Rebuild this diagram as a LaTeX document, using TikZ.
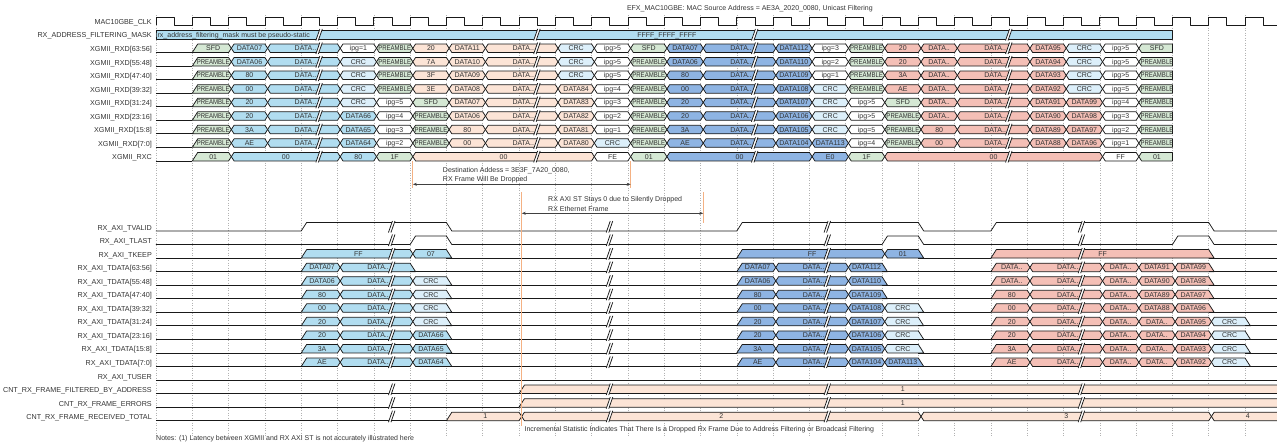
\documentclass[tikz,border=0pt]{standalone}
\usepackage{fontspec}
\setmainfont{Liberation Sans}
\usepackage{graphicx}
\usetikzlibrary{arrows.meta}
\definecolor{WaveGreen}{HTML}{D5E8D4}
\definecolor{FrameBlue}{HTML}{B1DDF0}
\definecolor{CrcBlue}{HTML}{DCEFFA}
\definecolor{FrameNavy}{HTML}{8EB4E3}
\definecolor{FramePeach}{HTML}{FCE4D6}
\definecolor{FrameSalmon}{HTML}{F4BFB6}
\definecolor{MarkOrange}{HTML}{F4B183}

\newcommand\pre{\scalebox{0.86}[1]{PREAMBLE}}
\newcommand\wslope{0.15}
\newcommand\wvh{8.5}
\def\wsx{x}\def\wsr{r}\def\wsv{v}\def\wsf{f}\def\wsl{l}\def\wsb{b}
\def\wparse#1#2#3#4\wend{\def\cellL{#1}\def\cellR{#2}\def\cellT{#3}}

% one bus value: ks/ke in clock periods, shape = left+right edge (+b: text before the break)
\newcommand\wcell[1]{%
  \expandafter\wparse\wsh\relax\relax\relax\wend
  \ifx\cellL\wsl
    \draw[wave] (\ks,\yb) -- (\ke,\yb);
  \else
    \ifx\cellL\wsx \def\xbl{\ks+\wslope}\def\xlm{\ks+\wslope/2}\def\xtl{\ks+\wslope}\fi
    \ifx\cellL\wsr \def\xbl{\ks}\def\xlm{\ks+\wslope/2}\def\xtl{\ks+\wslope}\fi
    \ifx\cellL\wsv \def\xbl{\ks}\def\xlm{\ks}\def\xtl{\ks}\fi
    \ifx\cellR\wsx \def\xtr{\ke}\def\xrm{\ke+\wslope/2}\def\xbr{\ke}\fi
    \ifx\cellR\wsf \def\xtr{\ke}\def\xrm{\ke+\wslope/2}\def\xbr{\ke+\wslope}\fi
    \ifx\cellR\wsv \def\xtr{\ke}\def\xrm{\ke}\def\xbr{\ke}\fi
    \filldraw[wave,fill=\col] ({\xbl},\yb) -- ({\xlm},\ym) -- ({\xtl},\yt)
      -- ({\xtr},\yt) -- ({\xrm},\ym) -- ({\xbr},\yb) -- cycle;
    \ifx\cellT\wsb
      \node[celltxt,anchor=base east] (c#1-\ks) at ({\ke-0.58},{\ym+2.5}) {\txt};
    \else
      \node[celltxt,anchor=base] (c#1-\ks) at ({(\ks+\ke+\wslope)/2},{\ym+2.5}) {\txt};
    \fi
  \fi}
\newcommand\wrow[3]{%
  \pgfmathsetmacro\yb{#2}%
  \pgfmathsetmacro\yt{#2-\wvh}%
  \pgfmathsetmacro\ym{#2-\wvh/2}%
  \foreach \ks/\ke/\wsh/\col/\txt in {#3}{\wcell{#1}}}
\newcommand\wbreak[2]{%
  \begin{scope}[shift={(#1,#2)},x=1pt,y=-1pt]
    \fill[white] (-3.5,1.5) -- (0.5,-\wvh-1.5) -- (3,-\wvh-1.5) -- (-1,1.5) -- cycle;
    \draw[wave] (-3.5,1.5) -- (0.5,-\wvh-1.5) (-1,1.5) -- (3,-\wvh-1.5);
  \end{scope}}

\begin{document}
\begin{tikzpicture}[x=36.3pt,y=-1pt]
  \tikzset{
    wave/.style={draw=black!90,line width=0.75pt,line join=round},
    celltxt/.style={font=\fontsize{7}{8}\selectfont,text=black!80,inner sep=0pt},
    signame/.style={font=\fontsize{7.2}{8}\selectfont,text=black!80,anchor=base east,inner sep=0pt},
    gridline/.style={draw=black!30,dotted,line width=0.5pt},
    marker/.style={draw=MarkOrange,line width=1.2pt},
    span/.style={draw=black!75,line width=0.6pt,{Stealth[length=4pt,width=3pt]}-{Stealth[length=4pt,width=3pt]}},
    note/.style={font=\fontsize{7}{8}\selectfont,text=black!80,inner sep=0pt}}
  \useasboundingbox (-4.2975,0) rectangle (30.8815,442);

  % clock grid
  \foreach \k in {0,...,30} \draw[gridline] (\k,15) -- (\k,437);

  % signal names
  \foreach \nm [count=\i from 0] in {{MAC10GBE\_CLK},{RX\_ADDRESS\_FILTERING\_MASK},
      {XGMII\_RXD[63:56]},{XGMII\_RXD[55:48]},{XGMII\_RXD[47:40]},{XGMII\_RXD[39:32]},
      {XGMII\_RXD[31:24]},{XGMII\_RXD[23:16]},{XGMII\_RXD[15:8]},{XGMII\_RXD[7:0]},{XGMII\_RXC}}
    \node[signame] (sn\i) at (-0.11,{25.4+\i*13.55-1}) {\nm};
  \foreach \nm [count=\i from 0] in {{RX\_AXI\_TVALID},{RX\_AXI\_TLAST},{RX\_AXI\_TKEEP},
      {RX\_AXI\_TDATA[63:56]},{RX\_AXI\_TDATA[55:48]},{RX\_AXI\_TDATA[47:40]},{RX\_AXI\_TDATA[39:32]},
      {RX\_AXI\_TDATA[31:24]},{RX\_AXI\_TDATA[23:16]},{RX\_AXI\_TDATA[15:8]},{RX\_AXI\_TDATA[7:0]},
      {RX\_AXI\_TUSER},{CNT\_RX\_FRAME\_FILTERED\_BY\_ADDRESS},{CNT\_RX\_FRAME\_ERRORS},
      {CNT\_RX\_FRAME\_RECEIVED\_TOTAL}}
    \node[signame] (sb\i) at (-0.11,{231+\i*13.55-1}) {\nm};

  % clock
  \draw[wave] (0,25.4) \foreach \k in {0,...,30} { -- (\k,25.4) -- (\k,16.9) -- (\k+0.5,16.9) -- (\k+0.5,25.4) } -- (31,25.4);

  % XGMII side
  \wrow{mask}{38.95}{0/28/vv/FrameBlue/FFFF\_FFFF\_FFFF}
  \node[celltxt,anchor=base west] (maskhint) at (0.04,37.3) {rx\_address\_filtering\_mask must be pseudo-static};
  \wrow{r63}{52.5}{0/1/l/none/-, 1/2/rx/WaveGreen/SFD, 2/3/xx/FrameBlue/DATA07, 3/5/xxb/FrameBlue/DATA.., 5/6/xx/white/ipg=1, 6/7/xx/WaveGreen/\pre, 7/8/xx/FramePeach/20, 8/9/xx/FramePeach/DATA11, 9/11/xxb/FramePeach/DATA.., 11/12/xx/CrcBlue/CRC, 12/13/xx/white/ipg>5, 13/14/xx/WaveGreen/SFD, 14/15/xx/FrameNavy/DATA07, 15/17/xxb/FrameNavy/DATA.., 17/18/xx/FrameNavy/DATA112, 18/19/xx/white/ipg=3, 19/20/xx/WaveGreen/\pre, 20/21/xx/FrameSalmon/20, 21/22/xx/FrameSalmon/DATA.., 22/24/xxb/FrameSalmon/DATA.., 24/25/xx/FrameSalmon/DATA95, 25/26/xx/CrcBlue/CRC, 26/27/xx/white/ipg>5, 27/28/xv/WaveGreen/SFD}
  \wrow{r55}{66.05}{0/1/l/none/-, 1/2/rx/WaveGreen/\pre, 2/3/xx/FrameBlue/DATA06, 3/5/xxb/FrameBlue/DATA.., 5/6/xx/CrcBlue/CRC, 6/7/xx/WaveGreen/\pre, 7/8/xx/FramePeach/7A, 8/9/xx/FramePeach/DATA10, 9/11/xxb/FramePeach/DATA.., 11/12/xx/CrcBlue/CRC, 12/13/xx/white/ipg>5, 13/14/xx/WaveGreen/\pre, 14/15/xx/FrameNavy/DATA06, 15/17/xxb/FrameNavy/DATA.., 17/18/xx/FrameNavy/DATA110, 18/19/xx/white/ipg=2, 19/20/xx/WaveGreen/\pre, 20/21/xx/FrameSalmon/20, 21/22/xx/FrameSalmon/DATA.., 22/24/xxb/FrameSalmon/DATA.., 24/25/xx/FrameSalmon/DATA94, 25/26/xx/CrcBlue/CRC, 26/27/xx/white/ipg>5, 27/28/xv/WaveGreen/\pre}
  \wrow{r47}{79.6}{0/1/l/none/-, 1/2/rx/WaveGreen/\pre, 2/3/xx/FrameBlue/80, 3/5/xxb/FrameBlue/DATA.., 5/6/xx/CrcBlue/CRC, 6/7/xx/WaveGreen/\pre, 7/8/xx/FramePeach/3F, 8/9/xx/FramePeach/DATA09, 9/11/xxb/FramePeach/DATA.., 11/12/xx/CrcBlue/CRC, 12/13/xx/white/ipg=5, 13/14/xx/WaveGreen/\pre, 14/15/xx/FrameNavy/80, 15/17/xxb/FrameNavy/DATA.., 17/18/xx/FrameNavy/DATA109, 18/19/xx/white/ipg=1, 19/20/xx/WaveGreen/\pre, 20/21/xx/FrameSalmon/3A, 21/22/xx/FrameSalmon/DATA.., 22/24/xxb/FrameSalmon/DATA.., 24/25/xx/FrameSalmon/DATA93, 25/26/xx/CrcBlue/CRC, 26/27/xx/white/ipg>5, 27/28/xv/WaveGreen/\pre}
  \wrow{r39}{93.15}{0/1/l/none/-, 1/2/rx/WaveGreen/\pre, 2/3/xx/FrameBlue/00, 3/5/xxb/FrameBlue/DATA.., 5/6/xx/CrcBlue/CRC, 6/7/xx/WaveGreen/\pre, 7/8/xx/FramePeach/3E, 8/9/xx/FramePeach/DATA08, 9/11/xxb/FramePeach/DATA.., 11/12/xx/FramePeach/DATA84, 12/13/xx/white/ipg=4, 13/14/xx/WaveGreen/\pre, 14/15/xx/FrameNavy/00, 15/17/xxb/FrameNavy/DATA.., 17/18/xx/FrameNavy/DATA108, 18/19/xx/CrcBlue/CRC, 19/20/xx/WaveGreen/\pre, 20/21/xx/FrameSalmon/AE, 21/22/xx/FrameSalmon/DATA.., 22/24/xxb/FrameSalmon/DATA.., 24/25/xx/FrameSalmon/DATA92, 25/26/xx/CrcBlue/CRC, 26/27/xx/white/ipg=5, 27/28/xv/WaveGreen/\pre}
  \wrow{r31}{106.7}{0/1/l/none/-, 1/2/rx/WaveGreen/\pre, 2/3/xx/FrameBlue/20, 3/5/xxb/FrameBlue/DATA.., 5/6/xx/CrcBlue/CRC, 6/7/xx/white/ipg=5, 7/8/xx/WaveGreen/SFD, 8/9/xx/FramePeach/DATA07, 9/11/xxb/FramePeach/DATA.., 11/12/xx/FramePeach/DATA83, 12/13/xx/white/ipg=3, 13/14/xx/WaveGreen/\pre, 14/15/xx/FrameNavy/20, 15/17/xxb/FrameNavy/DATA.., 17/18/xx/FrameNavy/DATA107, 18/19/xx/CrcBlue/CRC, 19/20/xx/white/ipg>5, 20/21/xx/WaveGreen/SFD, 21/22/xx/FrameSalmon/DATA.., 22/24/xxb/FrameSalmon/DATA.., 24/25/xx/FrameSalmon/DATA91, 25/26/xx/FrameSalmon/DATA99, 26/27/xx/white/ipg=4, 27/28/xv/WaveGreen/\pre}
  \wrow{r23}{120.25}{0/1/l/none/-, 1/2/rx/WaveGreen/\pre, 2/3/xx/FrameBlue/20, 3/5/xxb/FrameBlue/DATA.., 5/6/xx/FrameBlue/DATA66, 6/7/xx/white/ipg=4, 7/8/xx/WaveGreen/\pre, 8/9/xx/FramePeach/DATA06, 9/11/xxb/FramePeach/DATA.., 11/12/xx/FramePeach/DATA82, 12/13/xx/white/ipg=2, 13/14/xx/WaveGreen/\pre, 14/15/xx/FrameNavy/20, 15/17/xxb/FrameNavy/DATA.., 17/18/xx/FrameNavy/DATA106, 18/19/xx/CrcBlue/CRC, 19/20/xx/white/ipg>5, 20/21/xx/WaveGreen/\pre, 21/22/xx/FrameSalmon/DATA.., 22/24/xxb/FrameSalmon/DATA.., 24/25/xx/FrameSalmon/DATA90, 25/26/xx/FrameSalmon/DATA98, 26/27/xx/white/ipg=3, 27/28/xv/WaveGreen/\pre}
  \wrow{r15}{133.8}{0/1/l/none/-, 1/2/rx/WaveGreen/\pre, 2/3/xx/FrameBlue/3A, 3/5/xxb/FrameBlue/DATA.., 5/6/xx/FrameBlue/DATA65, 6/7/xx/white/ipg=3, 7/8/xx/WaveGreen/\pre, 8/9/xx/FramePeach/80, 9/11/xxb/FramePeach/DATA.., 11/12/xx/FramePeach/DATA81, 12/13/xx/white/ipg=1, 13/14/xx/WaveGreen/\pre, 14/15/xx/FrameNavy/3A, 15/17/xxb/FrameNavy/DATA.., 17/18/xx/FrameNavy/DATA105, 18/19/xx/CrcBlue/CRC, 19/20/xx/white/ipg=5, 20/21/xx/WaveGreen/\pre, 21/22/xx/FrameSalmon/80, 22/24/xxb/FrameSalmon/DATA.., 24/25/xx/FrameSalmon/DATA89, 25/26/xx/FrameSalmon/DATA97, 26/27/xx/white/ipg=2, 27/28/xv/WaveGreen/\pre}
  \wrow{r7}{147.35}{0/1/l/none/-, 1/2/rx/WaveGreen/\pre, 2/3/xx/FrameBlue/AE, 3/5/xxb/FrameBlue/DATA.., 5/6/xx/FrameBlue/DATA64, 6/7/xx/white/ipg=2, 7/8/xx/WaveGreen/\pre, 8/9/xx/FramePeach/00, 9/11/xxb/FramePeach/DATA.., 11/12/xx/FramePeach/DATA80, 12/13/xx/CrcBlue/CRC, 13/14/xx/WaveGreen/\pre, 14/15/xx/FrameNavy/AE, 15/17/xxb/FrameNavy/DATA.., 17/18/xx/FrameNavy/DATA104, 18/19/xx/FrameNavy/DATA113, 19/20/xx/white/ipg=4, 20/21/xx/WaveGreen/\pre, 21/22/xx/FrameSalmon/00, 22/24/xxb/FrameSalmon/DATA.., 24/25/xx/FrameSalmon/DATA88, 25/26/xx/FrameSalmon/DATA96, 26/27/xx/white/ipg=1, 27/28/xv/WaveGreen/\pre}
  \wrow{rxc}{160.9}{0/1/l/none/-, 1/2/rx/WaveGreen/01, 2/5/xx/FrameBlue/00, 5/6/xx/FrameBlue/80, 6/7/xx/WaveGreen/1F, 7/12/xx/FramePeach/00, 12/13/xx/white/FE, 13/14/xx/WaveGreen/01, 14/18/xx/FrameNavy/00, 18/19/xx/FrameNavy/E0, 19/20/xx/WaveGreen/1F, 20/26/xx/FrameSalmon/00, 26/27/xx/white/FF, 27/28/xv/WaveGreen/01}

  % RX AXI ST side
  \draw[wave] (0,231) -- (4,231) -- (4.15,222.5) -- (8,222.5) -- (8.15,231) -- (16,231) -- (16.15,222.5)
    -- (21,222.5) -- (21.15,231) -- (23,231) -- (23.15,222.5) -- (29,222.5) -- (29.15,231) -- (31,231);
  \draw[wave] (0,244.55) -- (7,244.55) -- (7.15,236.05) -- (8,236.05) -- (8.15,244.55) -- (20,244.55)
    -- (20.15,236.05) -- (21,236.05) -- (21.15,244.55) -- (28,244.55) -- (28.15,236.05) -- (29,236.05)
    -- (29.15,244.55) -- (31,244.55);
  \wrow{keep}{258.1}{0/4/l/none/-, 4/7/rx/FrameBlue/FF, 7/8/xf/FrameBlue/07, 8/16/l/none/-, 16/20/rx/FrameNavy/FF, 20/21/xf/FrameNavy/01, 21/23/l/none/-, 23/29/rf/FrameSalmon/FF, 29/31/l/none/-}
  \wrow{t63}{271.65}{0/4/l/none/-, 4/5/rx/FrameBlue/DATA07, 5/7/xfb/FrameBlue/DATA.., 7/16/l/none/-, 16/17/rx/FrameNavy/DATA07, 17/19/xxb/FrameNavy/DATA.., 19/20/xf/FrameNavy/DATA112, 20/23/l/none/-, 23/24/rx/FrameSalmon/DATA.., 24/26/xxb/FrameSalmon/DATA.., 26/27/xx/FrameSalmon/DATA.., 27/28/xx/FrameSalmon/DATA91, 28/29/xf/FrameSalmon/DATA99, 29/31/l/none/-}
  \wrow{t55}{285.2}{0/4/l/none/-, 4/5/rx/FrameBlue/DATA06, 5/7/xxb/FrameBlue/DATA.., 7/8/xf/CrcBlue/CRC, 8/16/l/none/-, 16/17/rx/FrameNavy/DATA06, 17/19/xxb/FrameNavy/DATA.., 19/20/xf/FrameNavy/DATA110, 20/23/l/none/-, 23/24/rx/FrameSalmon/DATA.., 24/26/xxb/FrameSalmon/DATA.., 26/27/xx/FrameSalmon/DATA.., 27/28/xx/FrameSalmon/DATA90, 28/29/xf/FrameSalmon/DATA98, 29/31/l/none/-}
  \wrow{t47}{298.75}{0/4/l/none/-, 4/5/rx/FrameBlue/80, 5/7/xxb/FrameBlue/DATA.., 7/8/xf/CrcBlue/CRC, 8/16/l/none/-, 16/17/rx/FrameNavy/80, 17/19/xxb/FrameNavy/DATA.., 19/20/xf/FrameNavy/DATA109, 20/23/l/none/-, 23/24/rx/FrameSalmon/80, 24/26/xxb/FrameSalmon/DATA.., 26/27/xx/FrameSalmon/DATA.., 27/28/xx/FrameSalmon/DATA89, 28/29/xf/FrameSalmon/DATA97, 29/31/l/none/-}
  \wrow{t39}{312.3}{0/4/l/none/-, 4/5/rx/FrameBlue/00, 5/7/xxb/FrameBlue/DATA.., 7/8/xf/CrcBlue/CRC, 8/16/l/none/-, 16/17/rx/FrameNavy/00, 17/19/xxb/FrameNavy/DATA.., 19/20/xx/FrameNavy/DATA108, 20/21/xf/CrcBlue/CRC, 21/23/l/none/-, 23/24/rx/FrameSalmon/00, 24/26/xxb/FrameSalmon/DATA.., 26/27/xx/FrameSalmon/DATA.., 27/28/xx/FrameSalmon/DATA88, 28/29/xf/FrameSalmon/DATA96, 29/31/l/none/-}
  \wrow{t31}{325.85}{0/4/l/none/-, 4/5/rx/FrameBlue/20, 5/7/xxb/FrameBlue/DATA.., 7/8/xf/CrcBlue/CRC, 8/16/l/none/-, 16/17/rx/FrameNavy/20, 17/19/xxb/FrameNavy/DATA.., 19/20/xx/FrameNavy/DATA107, 20/21/xf/CrcBlue/CRC, 21/23/l/none/-, 23/24/rx/FrameSalmon/20, 24/26/xxb/FrameSalmon/DATA.., 26/27/xx/FrameSalmon/DATA.., 27/28/xx/FrameSalmon/DATA.., 28/29/xx/FrameSalmon/DATA95, 29/30/xf/CrcBlue/CRC, 30/31/l/none/-}
  \wrow{t23}{339.4}{0/4/l/none/-, 4/5/rx/FrameBlue/20, 5/7/xxb/FrameBlue/DATA.., 7/8/xf/FrameBlue/DATA66, 8/16/l/none/-, 16/17/rx/FrameNavy/20, 17/19/xxb/FrameNavy/DATA.., 19/20/xx/FrameNavy/DATA106, 20/21/xf/CrcBlue/CRC, 21/23/l/none/-, 23/24/rx/FrameSalmon/20, 24/26/xxb/FrameSalmon/DATA.., 26/27/xx/FrameSalmon/DATA.., 27/28/xx/FrameSalmon/DATA.., 28/29/xx/FrameSalmon/DATA94, 29/30/xf/CrcBlue/CRC, 30/31/l/none/-}
  \wrow{t15}{352.95}{0/4/l/none/-, 4/5/rx/FrameBlue/3A, 5/7/xxb/FrameBlue/DATA.., 7/8/xf/FrameBlue/DATA65, 8/16/l/none/-, 16/17/rx/FrameNavy/3A, 17/19/xxb/FrameNavy/DATA.., 19/20/xx/FrameNavy/DATA105, 20/21/xf/CrcBlue/CRC, 21/23/l/none/-, 23/24/rx/FrameSalmon/3A, 24/26/xxb/FrameSalmon/DATA.., 26/27/xx/FrameSalmon/DATA.., 27/28/xx/FrameSalmon/DATA.., 28/29/xx/FrameSalmon/DATA93, 29/30/xf/CrcBlue/CRC, 30/31/l/none/-}
  \wrow{t7}{366.5}{0/4/l/none/-, 4/5/rx/FrameBlue/AE, 5/7/xxb/FrameBlue/DATA.., 7/8/xf/FrameBlue/DATA64, 8/16/l/none/-, 16/17/rx/FrameNavy/AE, 17/19/xxb/FrameNavy/DATA.., 19/20/xx/FrameNavy/DATA104, 20/21/xf/FrameNavy/DATA113, 21/23/l/none/-, 23/24/rx/FrameSalmon/AE, 24/26/xxb/FrameSalmon/DATA.., 26/27/xx/FrameSalmon/DATA.., 27/28/xx/FrameSalmon/DATA.., 28/29/xx/FrameSalmon/DATA92, 29/30/xf/CrcBlue/CRC, 30/31/l/none/-}
  \draw[wave] (0,380.05) -- (31,380.05);
  \wrow{filt}{393.6}{0/10/l/none/-, 10/31/rv/FramePeach/1}
  \wrow{err}{407.15}{0/10/l/none/-, 10/31/rv/FramePeach/1}
  \wrow{total}{420.7}{0/8/l/none/-, 8/10/rx/FramePeach/1, 10/21/xx/FramePeach/2, 21/29/xx/FramePeach/3, 29/31/xv/FramePeach/4}

  % time breaks
  \foreach \y in {38.95,52.5,66.05,79.6,93.15,106.7,120.25,133.8,147.35,160.9}
    \foreach \k in {4.5,10.5,16.5,23.5} {\wbreak{\k}{\y}}
  \foreach \y in {231,244.55,258.1,271.65,285.2,298.75,312.3,325.85,339.4,352.95,366.5,393.6,407.15,420.7}
    \foreach \k in {6.5,12.5,18.5,25.5} {\wbreak{\k}{\y}}

  % annotations
  \draw[marker] (7.076,161) -- (7.076,188);
  \draw[marker] (13.076,161) -- (13.076,188);
  \draw[marker] (10.076,192) -- (10.076,426);
  \draw[marker] (15.076,192) -- (15.076,222.7);
  \coordinate (dropL) at (7.076,184.3);
  \coordinate (dropR) at (13.076,184.3);
  \coordinate (silentL) at (10.076,213.3);
  \coordinate (silentR) at (15.076,213.3);
  \draw[span] (dropL) -- (dropR);
  \draw[span] (silentL) -- (silentR);
  \node[note,anchor=base west] (dropA) at (7.9,172.6) {Destination Addess = 3E3F\_7A20\_0080,};
  \node[note,anchor=base west] (dropB) at (7.9,181.9) {RX Frame Will Be Dropped};
  \node[note,anchor=base west] (silentA) at (10.8,201.9) {RX AXI ST Stays 0 due to Silently Dropped};
  \node[note,anchor=base west] (silentB) at (10.8,211.3) {RX Ethernet Frame};
  \node[note,anchor=base west] (cntnote) at (10.15,431.9) {Incremental Statistic Indicates That There Is a Dropped Rx Frame Due to Address Filtering or Broadcast Filtering};
  \node[note,anchor=base west] (footnote) at (0,440.2) {Notes: (1) Latency between XGMII and RX AXI ST is not accurately illustrated here};
  \node[note,anchor=base] (title) at (16.36,10.9) {EFX\_MAC10GBE: MAC Source Address = AE3A\_2020\_0080, Unicast Filtering};
\end{tikzpicture}
\end{document}
